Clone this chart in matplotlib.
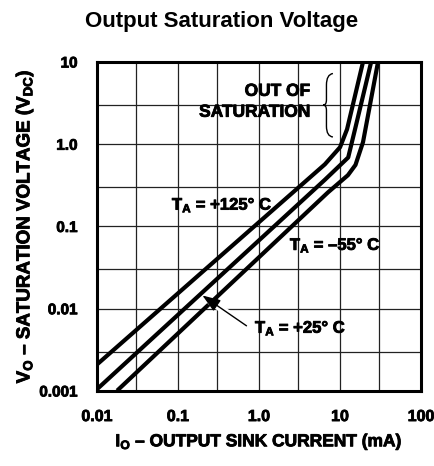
import matplotlib
matplotlib.use("Agg")
import matplotlib.pyplot as plt
import matplotlib.patheffects as pe
from matplotlib.path import Path
from matplotlib.patches import PathPatch

plt.rcParams['font.family'] = ['Liberation Sans', 'DejaVu Sans']
plt.rcParams['font.weight'] = 'bold'
plt.rcParams['mathtext.fontset'] = 'custom'
plt.rcParams['mathtext.default'] = 'bf'
plt.rcParams['mathtext.rm'] = 'Liberation Sans:bold'
plt.rcParams['mathtext.it'] = 'Liberation Sans:bold'
plt.rcParams['mathtext.bf'] = 'Liberation Sans:bold'

# output sink current (mA) vs saturation voltage (V)
i_125 = [0.01, 6.5, 10.0, 12.2, 19.2]
v_125 = [0.0021, 0.57, 0.92, 1.52, 10.0]

i_25 = [0.01, 6.5, 12.6, 15.3, 24.2]
v_25 = [0.00105, 0.37, 0.69, 1.52, 10.0]

i_m55 = [0.0185, 7.1, 12.5, 15.5, 19.2, 29.4]
v_m55 = [0.00105, 0.26, 0.42, 0.56, 1.06, 10.0]

x_ticks = [0.01, 0.1, 1.0, 10, 100]
x_tick_labels = ['0.01', '0.1', '1.0', '10', '100']
y_ticks = [0.001, 0.01, 0.1, 1.0, 10]
y_tick_labels = ['0.001', '0.01', '0.1', '1.0', '10']
x_minor = [0.03, 0.3, 3, 30]
y_minor = [0.003, 0.03, 0.3, 3]

heavy = [pe.withStroke(linewidth=0.6, foreground='black')]

fig = plt.figure(figsize=(4.35, 4.66), dpi=100)
ax = fig.add_axes([0.223, 0.161, 0.745, 0.706])

ax.set_xscale('log')
ax.set_yscale('log')
ax.set_xlim(0.01, 100)
ax.set_ylim(0.001, 10)

ax.set_xticks(x_ticks)
ax.set_xticklabels(x_tick_labels, fontweight='bold')
ax.set_yticks(y_ticks)
ax.set_yticklabels(y_tick_labels, fontweight='bold')
ax.set_xticks(x_minor, minor=True)
ax.set_yticks(y_minor, minor=True)
ax.tick_params(which='both', length=0)
ax.tick_params(axis='x', pad=13, labelsize=11.5)
ax.tick_params(axis='y', pad=14, labelsize=11)
for t in ax.get_xticklabels() + ax.get_yticklabels():
    t.set_path_effects(heavy)

ax.grid(which='both', color='#222222', linewidth=0.9)
ax.set_axisbelow(True)
for sp in ax.spines.values():
    sp.set_linewidth(2.2)

lw = 3.0
ax.plot(i_125, v_125, color='black', lw=lw, solid_joinstyle='round', zorder=3)
ax.plot(i_25, v_25, color='black', lw=lw, solid_joinstyle='round', zorder=3)
ax.plot(i_m55, v_m55, color='black', lw=lw, solid_joinstyle='round', zorder=3)

lbl = dict(fontsize=12, va='center', ha='left', fontweight='bold',
           path_effects=heavy)
ax.text(0.084, 0.185, r'T$_\mathbf{A}$ = +125° C', **lbl)
ax.text(2.4, 0.060, r'T$_\mathbf{A}$ = –55° C', **lbl)
ax.text(0.89, 0.0059, r'T$_\mathbf{A}$ = +25° C', **lbl)

# gap in the -55 curve where the arrow passes
ax.annotate('', xy=(0.235, 0.0128), xytext=(0.7, 0.0062),
            arrowprops=dict(arrowstyle='-', color='white', lw=5), zorder=4)
ax.annotate('', xy=(0.2, 0.0145), xytext=(0.7, 0.0062),
            arrowprops=dict(arrowstyle='-|>,head_length=1.1,head_width=0.4',
                            color='black', lw=1.0, shrinkA=0, shrinkB=0),
            zorder=5)

ax.text(4.3, 4.4, 'OUT OF', fontsize=12.5, ha='right', va='center',
        fontweight='bold', path_effects=heavy)
ax.text(4.3, 2.45, 'SATURATION', fontsize=12.5, ha='right', va='center',
        fontweight='bold', path_effects=heavy)

# brace next to "OUT OF SATURATION"
verts = [(0.728, 0.965), (0.708, 0.962), (0.708, 0.93),
         (0.708, 0.885),
         (0.708, 0.869), (0.698, 0.869),
         (0.708, 0.869), (0.708, 0.853),
         (0.708, 0.805),
         (0.708, 0.774), (0.728, 0.772)]
codes = [Path.MOVETO, Path.CURVE3, Path.CURVE3,
         Path.LINETO,
         Path.CURVE3, Path.CURVE3,
         Path.CURVE3, Path.CURVE3,
         Path.LINETO,
         Path.CURVE3, Path.CURVE3]
ax.add_patch(PathPatch(Path(verts, codes), transform=ax.transAxes,
                       fill=False, lw=1.0, color='black', zorder=4))

ax.set_xlabel(r'I$_\mathbf{O}$ – OUTPUT SINK CURRENT (mA)',
              fontsize=12.5, labelpad=6, fontweight='bold',
              path_effects=heavy)
ax.set_ylabel(r'V$_\mathbf{O}$ – SATURATION VOLTAGE (V$_\mathbf{DC}$)',
              fontsize=13.5, fontweight='bold', path_effects=heavy)
ax.yaxis.set_label_coords(-0.19, 0.5)

fig.text(0.51, 0.953, 'Output Saturation Voltage', fontsize=16,
         fontweight='bold', ha='center', va='center')

fig.savefig('out.png', dpi=100)
